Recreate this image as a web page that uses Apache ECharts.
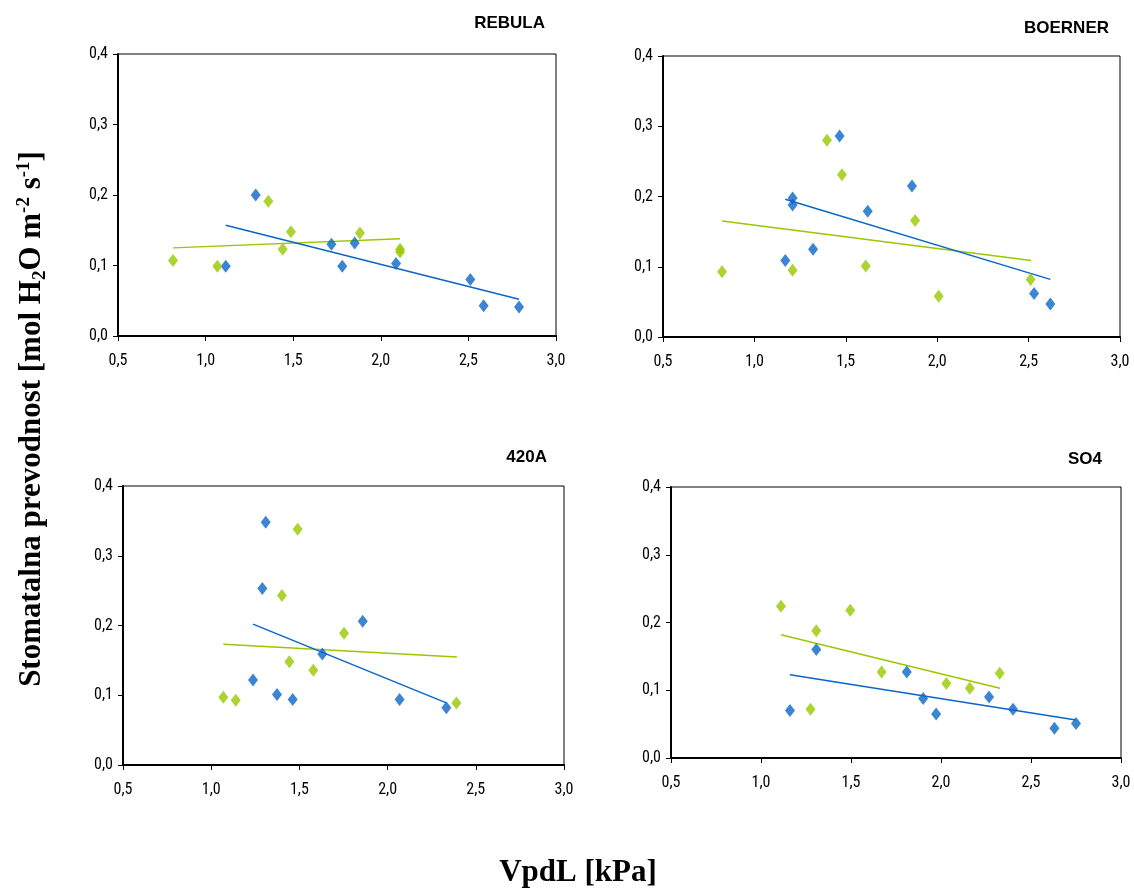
<!DOCTYPE html>
<html>
<head>
<meta charset="utf-8">
<script src="https://cdn.jsdelivr.net/npm/echarts@6/dist/echarts.min.js"></script>
<style>
  html, body { margin: 0; padding: 0; background: #fff; }
  #chart { width: 1134px; height: 889px; }
</style>
</head>
<body>
<div id="chart"></div>
<script>
// Stomatal conductance vs. leaf VPD, four cultivars, two series each
// (blue / green) with their linear trend lines.

const BLUE = '#0a66c8';
const GREEN = '#99c800';
const TICK_FONT = '"Liberation Sans Narrow", "Arial Narrow", "Roboto Condensed", sans-serif';
const SERIF = '"Liberation Serif", "Times New Roman", serif';

const panelNames = ['REBULA', 'BOERNER', '420A', 'SO4'];

// ── REBULA ──
const rebulaBlue = [[1.115, 0.099], [1.286, 0.200], [1.718, 0.130], [1.780, 0.099], [1.851, 0.132],
  [2.087, 0.103], [2.511, 0.080], [2.587, 0.043], [2.789, 0.041]];
const rebulaGreen = [[0.814, 0.107], [1.067, 0.099], [1.358, 0.191], [1.440, 0.123], [1.487, 0.148],
  [1.881, 0.146], [2.110, 0.123], [2.110, 0.119]];
const rebulaBlueTrend = [[1.115, 0.157], [2.789, 0.052]];
const rebulaGreenTrend = [[0.814, 0.125], [2.110, 0.138]];

// ── BOERNER ──
const boernerBlue = [[1.466, 0.286], [1.209, 0.198], [1.209, 0.188], [1.169, 0.109], [1.321, 0.125],
  [1.620, 0.179], [1.862, 0.215], [2.530, 0.062], [2.619, 0.047]];
const boernerGreen = [[0.823, 0.093], [1.209, 0.095], [1.397, 0.280], [1.479, 0.231], [1.609, 0.101],
  [1.879, 0.166], [2.008, 0.058], [2.511, 0.082]];
const boernerBlueTrend = [[1.169, 0.196], [2.619, 0.082]];
const boernerGreenTrend = [[0.823, 0.165], [2.514, 0.109]];

// ── 420A ──
const a420Blue = [[1.309, 0.348], [1.290, 0.253], [1.237, 0.122], [1.373, 0.101], [1.462, 0.094],
  [1.630, 0.159], [1.859, 0.206], [2.068, 0.094], [2.333, 0.082]];
const a420Green = [[1.069, 0.097], [1.139, 0.093], [1.490, 0.338], [1.401, 0.243], [1.443, 0.148],
  [1.579, 0.136], [1.753, 0.189], [2.390, 0.089]];
const a420BlueTrend = [[1.237, 0.202], [2.333, 0.089]];
const a420GreenTrend = [[1.069, 0.173], [2.393, 0.155]];

// ── SO4 ──
const so4Blue = [[1.161, 0.070], [1.307, 0.160], [1.810, 0.127], [1.901, 0.088], [1.973, 0.065],
  [2.267, 0.090], [2.400, 0.072], [2.630, 0.044], [2.750, 0.051]];
const so4Green = [[1.111, 0.224], [1.307, 0.188], [1.275, 0.072], [1.496, 0.218], [1.670, 0.127],
  [2.030, 0.110], [2.160, 0.103], [2.326, 0.125]];
const so4BlueTrend = [[1.161, 0.123], [2.750, 0.056]];
const so4GreenTrend = [[1.111, 0.182], [2.328, 0.103]];

const panels = [
  { blue: rebulaBlue, green: rebulaGreen, blueTrend: rebulaBlueTrend, greenTrend: rebulaGreenTrend },
  { blue: boernerBlue, green: boernerGreen, blueTrend: boernerBlueTrend, greenTrend: boernerGreenTrend },
  { blue: a420Blue, green: a420Green, blueTrend: a420BlueTrend, greenTrend: a420GreenTrend },
  { blue: so4Blue, green: so4Green, blueTrend: so4BlueTrend, greenTrend: so4GreenTrend },
];

const boxes = [
  { left: 118, top: 54, width: 438, height: 282 },
  { left: 663, top: 56, width: 457, height: 281 },
  { left: 123, top: 486, width: 441, height: 279 },
  { left: 671, top: 487, width: 450, height: 271 },
];

// title anchors (right edge, vertical centre)
const titlePos = [[545, 24], [1109, 29], [547, 458], [1102, 460]];

const comma = (v, d) => v.toFixed(d).replace('.', ',');

const grid = boxes.map(b => ({ ...b, show: true, borderColor: '#000', borderWidth: 1, backgroundColor: '#fff' }));

const xAxis = boxes.map((b, i) => ({
  type: 'value', gridIndex: i, min: 0.5, max: 3.0, interval: 0.5,
  axisLine: { show: true, onZero: false, lineStyle: { color: '#000', width: 2 } },
  axisTick: { show: true, length: 5, lineStyle: { color: '#000', width: 1 } },
  axisLabel: { color: '#000', fontFamily: TICK_FONT, fontSize: 16, margin: 17, formatter: v => comma(v, 1) },
  splitLine: { show: false },
}));

const yAxis = boxes.map((b, i) => ({
  type: 'value', gridIndex: i, min: 0, max: 0.4, interval: 0.1,
  axisLine: { show: true, onZero: false, lineStyle: { color: '#000', width: 2 } },
  axisTick: { show: true, length: 5, lineStyle: { color: '#000', width: 1 } },
  axisLabel: { color: '#000', fontFamily: TICK_FONT, fontSize: 16, margin: 10, formatter: v => comma(v, 1) },
  splitLine: { show: false },
}));

const series = [];
panels.forEach((p, i) => {
  const common = { xAxisIndex: i, yAxisIndex: i, animation: false, silent: true };
  series.push({ ...common, type: 'line', data: p.greenTrend, showSymbol: false, symbol: 'none',
    lineStyle: { color: GREEN, width: 1.5 }, z: 2 });
  series.push({ ...common, type: 'line', data: p.blueTrend, showSymbol: false, symbol: 'none',
    lineStyle: { color: BLUE, width: 1.5 }, z: 2 });
  series.push({ ...common, type: 'scatter', data: p.blue, symbol: 'diamond', symbolSize: [10, 13],
    itemStyle: { color: BLUE }, z: 3 });
  series.push({ ...common, type: 'scatter', data: p.green, symbol: 'diamond', symbolSize: [10, 13],
    itemStyle: { color: GREEN }, z: 3 });
});

const graphic = panelNames.map((name, i) => ({
  type: 'text', right: 1134 - titlePos[i][0], top: titlePos[i][1] - 9,
  style: { text: name, fontFamily: '"Liberation Sans Narrow", "Arial Narrow", sans-serif',
    fontWeight: 'bold', fontSize: 17, fill: '#000' },
}));

graphic.push({
  type: 'text', x: 578, y: 873,
  style: { text: 'VpdL [kPa]', fontFamily: SERIF, fontWeight: 'bold', fontSize: 31, fill: '#000',
    align: 'center', verticalAlign: 'middle' },
});

graphic.push({
  type: 'text', x: 32, y: 419, rotation: Math.PI / 2,
  style: {
    text: '{a|Stomatalna prevodnost [mol H}{sub|2}{a|O m}{sup|-2}{a| s}{sup|-1}{a|]}',
    align: 'center', verticalAlign: 'middle',
    rich: {
      a: { fontFamily: SERIF, fontWeight: 'bold', fontSize: 31, fill: '#000', lineHeight: 36 },
      sub: { fontFamily: SERIF, fontWeight: 'bold', fontSize: 19, fill: '#000', padding: [16, 0, 0, 0], lineHeight: 36 },
      sup: { fontFamily: SERIF, fontWeight: 'bold', fontSize: 19, fill: '#000', padding: [0, 0, 16, 0], lineHeight: 36 },
    },
  },
});

const chart = echarts.init(document.getElementById('chart'));
chart.setOption({
  backgroundColor: '#fff',
  animation: false,
  grid, xAxis, yAxis, series, graphic,
});
</script>
</body>
</html>
